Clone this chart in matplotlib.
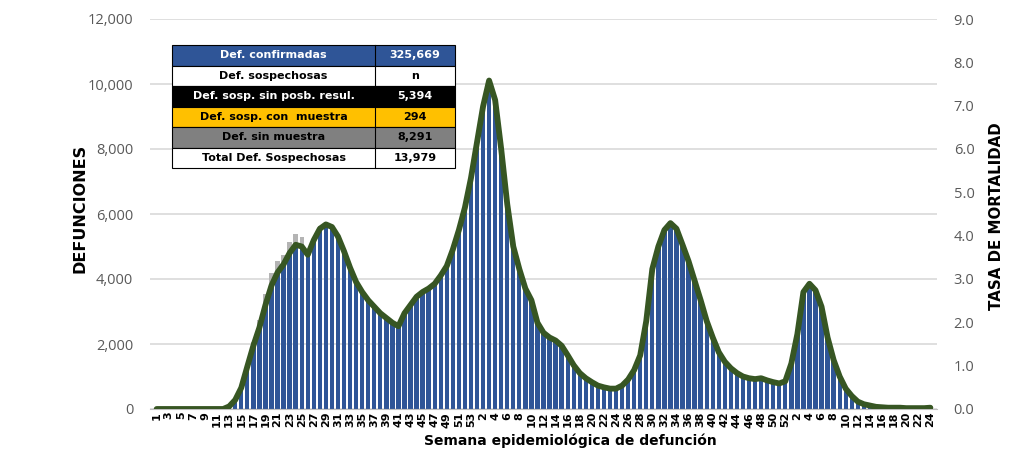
import numpy as np
import matplotlib
matplotlib.use("Agg")
import matplotlib.pyplot as plt
from matplotlib.patches import Rectangle
from matplotlib.ticker import FuncFormatter, MultipleLocator

plt.rcParams['font.family'] = ['Open Sans', 'DejaVu Sans']

# semanas epidemiologicas 2020 (53), 2021 (52), 2022 (24)
weeks_2020 = list(range(1, 54))
weeks_2021 = list(range(1, 53))
weeks_2022 = list(range(1, 25))
week_labels = [str(w) for w in weeks_2020 + weeks_2021 + weeks_2022]

# defunciones confirmadas por semana
confirmadas = [
    0, 0, 0, 0, 0, 0, 0, 0, 0, 0, 0, 5, 80, 280, 650, 1300, 1950, 2500, 3200, 3800,
    4200, 4450, 4800, 5050, 5000, 4750, 5200, 5550, 5680, 5600, 5300, 4850, 4350, 3900, 3600, 3350,
    3150, 2950, 2800, 2650, 2550, 2950, 3200, 3450, 3600, 3700, 3850, 4100, 4400, 4900, 5500, 6200,
    7100, 8200, 9300, 10100, 9500, 8000, 6300, 5000, 4300, 3700, 3350, 2650, 2350, 2200, 2100, 1950,
    1650, 1350, 1100, 950, 820, 720, 660, 620, 620, 720, 900, 1200, 1650, 2700, 4300, 5000,
    5500, 5720, 5550, 5050, 4550, 3950, 3350, 2700, 2200, 1750, 1450, 1250, 1100, 1000, 950, 920,
    950, 880, 820, 780, 850, 1400, 2300, 3600, 3850, 3650, 3150, 2200, 1500, 1000, 620, 400,
    230, 150, 100, 70, 55, 45, 40, 35, 30, 30, 30, 30, 40,
]

# defunciones sospechosas (sin muestra) apiladas
sospechosas = [0] * 16 + [100, 250, 350, 400, 350, 300, 350, 350, 300, 150, 100, 80, 60] + [0] * 100

# tasa de mortalidad (eje derecho)
tasa = [
    0, 0, 0, 0, 0, 0, 0, 0, 0, 0, 0, 0.00, 0.06, 0.21, 0.49, 0.98, 1.46, 1.88, 2.40, 2.85,
    3.15, 3.34, 3.60, 3.79, 3.75, 3.56, 3.90, 4.16, 4.26, 4.20, 3.98, 3.64, 3.26, 2.93, 2.70, 2.51,
    2.36, 2.21, 2.10, 1.99, 1.91, 2.21, 2.40, 2.59, 2.70, 2.78, 2.89, 3.08, 3.30, 3.68, 4.13, 4.65,
    5.33, 6.15, 6.98, 7.58, 7.13, 6.00, 4.73, 3.75, 3.23, 2.78, 2.51, 1.99, 1.76, 1.65, 1.58, 1.46,
    1.24, 1.01, 0.83, 0.71, 0.62, 0.54, 0.50, 0.47, 0.47, 0.54, 0.68, 0.90, 1.24, 2.03, 3.23, 3.75,
    4.13, 4.29, 4.16, 3.79, 3.41, 2.96, 2.51, 2.03, 1.65, 1.31, 1.09, 0.94, 0.83, 0.75, 0.71, 0.69,
    0.71, 0.66, 0.62, 0.59, 0.64, 1.05, 1.73, 2.70, 2.89, 2.74, 2.36, 1.65, 1.13, 0.75, 0.47, 0.30,
    0.17, 0.11, 0.08, 0.05, 0.04, 0.03, 0.03, 0.03, 0.02, 0.02, 0.02, 0.02, 0.03,
]

tabla_labels = ["Def. confirmadas", "Def. sospechosas", "Def. sosp. sin posb. resul.",
                "Def. sosp. con  muestra", "Def. sin muestra", "Total Def. Sospechosas"]
tabla_values = ["325,669", "n", "5,394", "294", "8,291", "13,979"]
tabla_bg = ["#2F5597", "white", "black", "#FFC000", "#808080", "white"]
tabla_fg = ["white", "black", "white", "black", "black", "black"]

W, H = 1036, 449
fig = plt.figure(figsize=(W / 100, H / 100), dpi=100)
ax = fig.add_axes([150 / W, 1 - 409 / H, (937 - 150) / W, (409 - 19) / H])
x = np.arange(len(confirmadas))

ax.bar(x, confirmadas, width=0.72, color="#2F5597", zorder=2)
ax.bar(x, sospechosas, width=0.72, bottom=confirmadas, color="#B4B4B4", zorder=2)
ax.set_xlim(-1.1, len(x) - 1 + 1.1)
ax.set_ylim(0, 12000)
ax.yaxis.set_major_locator(MultipleLocator(2000))
ax.yaxis.set_major_formatter(FuncFormatter(lambda v, p: f"{int(v):,}"))
ax.grid(axis="y", color="#D9D9D9", linewidth=1.2, zorder=0)
for s in ["top", "right", "left"]:
    ax.spines[s].set_visible(False)
ax.spines["bottom"].set_color("#BFBFBF")
ax.tick_params(axis="y", length=0, labelsize=10.5, labelcolor="#595959", pad=12)
ax.set_xticks(x[::2])
ax.set_xticklabels(week_labels[::2], rotation=90, fontsize=8, fontweight="bold",
                   family=["DejaVu Sans"])
ax.tick_params(axis="x", length=0, pad=2)
ax.set_ylabel("DEFUNCIONES", fontsize=11.5, fontweight="bold", family=["DejaVu Sans"])
ax.yaxis.set_label_coords(-0.079, 0.515)

ax2 = ax.twinx()
ax2.plot(x, tasa, color="#375623", linewidth=4.2, solid_joinstyle="round",
         solid_capstyle="round", zorder=3)
ax2.set_ylim(0, 9)
ax2.yaxis.set_major_locator(MultipleLocator(1))
ax2.yaxis.set_major_formatter(FuncFormatter(lambda v, p: f"{v:.1f}"))
for s in ["top", "right", "left", "bottom"]:
    ax2.spines[s].set_visible(False)
ax2.tick_params(axis="y", length=0, labelsize=10.5, labelcolor="#595959", pad=12)
ax2.set_ylabel("TASA DE MORTALIDAD", fontsize=10.8, fontweight="bold", family=["DejaVu Sans"])
ax2.yaxis.set_label_coords(1.066, 0.495)

fig.text(570 / W, 1 - 448 / H, "Semana epidemiológica de defunción", ha="center", va="bottom",
         fontsize=10, fontweight="bold", family=["DejaVu Sans"])

# tabla de resumen
tx0, tx1, tx2 = 172, 375, 455
ty0, ty1 = 45, 168
tab = fig.add_axes([tx0 / W, 1 - ty1 / H, (tx2 - tx0) / W, (ty1 - ty0) / H])
tab.set_xlim(tx0, tx2)
tab.set_ylim(ty1, ty0)
tab.axis("off")
rh = (ty1 - ty0) / len(tabla_labels)
for k, (lab, val) in enumerate(zip(tabla_labels, tabla_values)):
    y0 = ty0 + k * rh
    tab.add_patch(Rectangle((tx0, y0), tx2 - tx0, rh, facecolor=tabla_bg[k],
                            edgecolor="black", linewidth=0.8, clip_on=False))
    tab.plot([tx1, tx1], [y0, y0 + rh], color="black", linewidth=0.8, clip_on=False)
    tab.text((tx0 + tx1) / 2, y0 + rh / 2, lab, ha="center", va="center",
             fontsize=8, fontweight="bold", color=tabla_fg[k], family=["DejaVu Sans"])
    tab.text((tx1 + tx2) / 2, y0 + rh / 2, val, ha="center", va="center",
             fontsize=8, fontweight="bold", color=tabla_fg[k], family=["DejaVu Sans"])

fig.savefig("out.png", dpi=100)
